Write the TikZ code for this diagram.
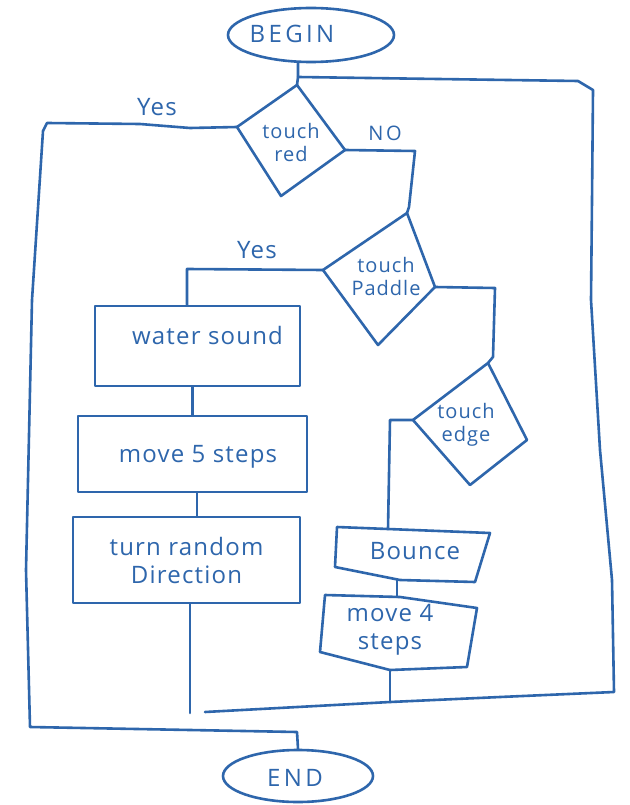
\documentclass[tikz,border=0pt]{standalone}
\usepackage{fontspec}
\setmainfont{Open Sans}
\newfontfamily\handcaps[LetterSpace=14]{Open Sans}
\newfontfamily\hand[LetterSpace=5]{Open Sans}
\usetikzlibrary{shapes.geometric}
\definecolor{ink}{HTML}{2E66AC}
\begin{document}
\begin{tikzpicture}[x=1pt,y=-1pt, ink,
  line width=2.6pt, line join=round, line cap=round,
  lbl/.style={font=\hand\fontsize{24}{28}\selectfont, align=center, inner sep=0pt, text=ink},
  dlbl/.style={lbl, font=\hand\fontsize{20}{23}\selectfont},
  capl/.style={lbl, font=\handcaps\fontsize{24}{28}\selectfont},
  boxn/.style={draw=ink, rectangle, inner sep=0pt},
  term/.style={draw=ink, ellipse, inner sep=0pt}]
\useasboundingbox[fill=white] (0,0) rectangle (629,805);

% terminals
\node[term, minimum width=166pt, minimum height=54pt] (begin) at (311,35) {};
\node[capl] (begintxt) at (292,34) {BEGIN};
\node[term, minimum width=150pt, minimum height=52pt] (end) at (298,776) {};
\node[capl] (endtxt) at (295,778) {END};

% decision: touch red
\coordinate (rT) at (297,85);
\coordinate (rL) at (237,127);
\coordinate (rB) at (281,196);
\coordinate (rR) at (345,150);
\draw (rT) -- (rR) -- (rB) -- (rL) -- cycle;
\node[dlbl] (red) at (291,143) {touch\\red};

% decision: touch Paddle
\coordinate (pT) at (407,213);
\coordinate (pL) at (323,270);
\coordinate (pB) at (378,345);
\coordinate (pR) at (435,287);
\draw (pT) -- (pR) -- (pB) -- (pL) -- cycle;
\node[dlbl] (paddle) at (386,276) {touch\\Paddle};

% decision: touch edge
\coordinate (eT) at (488,363);
\coordinate (eL) at (413,420);
\coordinate (eB) at (470,485);
\coordinate (eR) at (527,440);
\draw (eT) -- (eR) -- (eB) -- (eL) -- cycle;
\node[dlbl] (edge) at (466,425) {touch\\edge};

% process boxes, left column
\node[boxn, minimum width=205pt, minimum height=80pt,
  label={[lbl, xshift=10pt, yshift=11pt]center:water sound}] (water) at (197.5,346) {};
\node[boxn, minimum width=229pt, minimum height=76pt,
  label={[lbl, xshift=5.5pt, yshift=-3pt]center:move 5 steps}] (move5) at (192.5,454) {};
\node[boxn, minimum width=227pt, minimum height=86pt,
  label={[lbl]center:{turn random\\Direction}}] (turn) at (186.5,560) {};

% process boxes, right column
\coordinate (b1) at (337,527);
\coordinate (b2) at (490,533);
\coordinate (b3) at (475,582);
\coordinate (b4) at (400,580);
\coordinate (b5) at (335,567);
\draw (b1) -- (b2) -- (b3) -- (b4) -- (b5) -- cycle;
\node[lbl] (bounce) at (415,551) {Bounce};
\coordinate (m1) at (325,595);
\coordinate (m2) at (400,597);
\coordinate (m3) at (477,608);
\coordinate (m4) at (467,667);
\coordinate (m5) at (390,670);
\coordinate (m6) at (320,652);
\draw (m1) -- (m2) -- (m3) -- (m4) -- (m5) -- (m6) -- cycle;
\node[lbl] (move4) at (390,630) {move 4\\steps};

% branch labels
\node[lbl] (yes1) at (157,107) {Yes};
\node[lbl] (yes2) at (257,250) {Yes};
\node[capl, font=\handcaps\fontsize{20}{24}\selectfont] (no) at (385,133) {NO};

% junctions
\coordinate (j0) at (298,77);
\coordinate (jb) at (390,702);
\coordinate (tEnd) at (190,713);
\coordinate (bEnd) at (205,712);
\coordinate (bTop) at (388,529);
\coordinate (mTop) at (397,597);

% connectors
\draw (begin.south -| j0) -- (j0) -- (rT);
\draw (bEnd) -- (jb) -- (500,697) -- (614,692) -- (612,580) -- (600,450)
      -- (591,300) -- (592,200) -- (593,90) -- (578,81) -- (j0);
\draw (rL) -- (190,128) -- (140,124) -- (47,123) -- (43,131) -- (32,300)
      -- (26,570) -- (30,727) -- (297,732) -- (end.north);
\draw (rR) -- (415,151) -- (409,207) -- (pT);
\draw (pL) -- (187,269) -- (water.north -| 187,0);
\draw (water.south -| move5.north) -- (move5.north);
\draw ([xshift=4.5pt]move5.south) -- ([xshift=10.5pt]turn.north);
\draw ([xshift=3.5pt]turn.south) -- (tEnd);
\draw (pR) -- (495,288) -- (493,357) -- (eT);
\draw (eL) -- (390,420) -- (bTop);
\draw (b4 -| mTop) -- (mTop);
\draw (m5) -- (jb);
\end{tikzpicture}
\end{document}
